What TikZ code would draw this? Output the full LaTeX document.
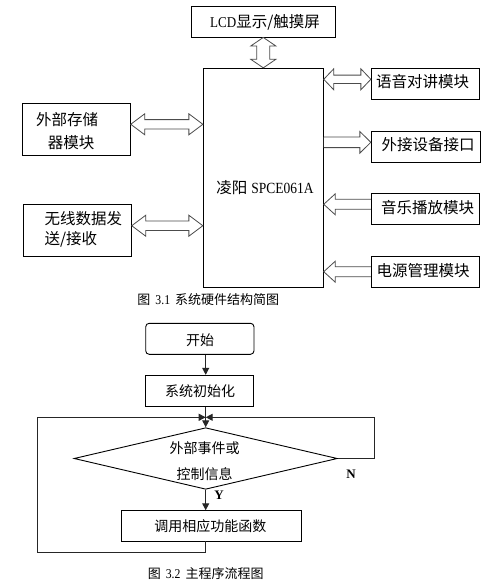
\documentclass[tikz,border=0pt]{standalone}
\usepackage{fontspec}
\setmainfont{Liberation Serif}
\newfontfamily\cjk{Noto Sans CJK SC}
\newfontfamily\lat[FakeStretch=0.87]{Liberation Serif}
\usetikzlibrary{calc,shapes.geometric,arrows.meta}
\tikzset{
  box/.style={draw=black,line width=0.9pt,inner sep=0pt,minimum width=#1},
  box/.default=108pt,
  txt/.style={inner sep=0pt,font=\cjk\fontsize{15.5}{18}\selectfont},
  ftxt/.style={inner sep=0pt,font=\cjk\fontsize{14}{16}\selectfont},
  captxt/.style={inner sep=0pt,font=\cjk\fontsize{13}{15}\selectfont},
  blk/.style={draw=black!70,line width=0.8pt,fill=white},
  fl/.style={draw=black!85,line width=1pt},
  tiparr/.style={-{Triangle[length=7pt,width=7pt]}},
  yn/.style={inner sep=0pt,font=\bfseries\fontsize{13}{15}\selectfont}
}
% double horizontal block arrow: #1 left end, #2 right end, #3 shaft half, #4 head half, #5 head length
\newcommand\dblH[5]{\draw[blk] let \p1=#1, \p2=#2 in
 (\x1,\y1) -- (\x1+#5,\y1+#4) -- (\x1+#5,\y1+#3) -- (\x2-#5,\y1+#3) -- (\x2-#5,\y1+#4) -- (\x2,\y1)
 -- (\x2-#5,\y1-#4) -- (\x2-#5,\y1-#3) -- (\x1+#5,\y1-#3) -- (\x1+#5,\y1-#4) -- cycle;}
% right single block arrow: #1 tail (left), #2 tip (right)
\newcommand\sglR[5]{\draw[blk] let \p1=#1, \p2=#2 in
 (\x1,\y1+#3) -- (\x2-#5,\y1+#3) -- (\x2-#5,\y1+#4) -- (\x2,\y1) -- (\x2-#5,\y1-#4) -- (\x2-#5,\y1-#3) -- (\x1,\y1-#3);}
% left single block arrow: #1 tip (left), #2 tail (right)
\newcommand\sglL[5]{\draw[blk] let \p1=#1, \p2=#2 in
 (\x2,\y1+#3) -- (\x1+#5,\y1+#3) -- (\x1+#5,\y1+#4) -- (\x1,\y1) -- (\x1+#5,\y1-#4) -- (\x1+#5,\y1-#3) -- (\x2,\y1-#3);}
% vertical double block arrow: #1 top end, #2 bottom end
\newcommand\dblV[5]{\draw[blk] let \p1=#1, \p2=#2 in
 (\x1,\y1) -- (\x1+#4,\y1-#5) -- (\x1+#3,\y1-#5) -- (\x1+#3,\y2+#5) -- (\x1+#4,\y2+#5) -- (\x1,\y2)
 -- (\x1-#4,\y2+#5) -- (\x1-#3,\y2+#5) -- (\x1-#3,\y1-#5) -- (\x1-#4,\y1-#5) -- cycle;}
\begin{document}
\begin{tikzpicture}[x=1pt,y=-1pt]
\useasboundingbox[fill=white] (0,0) rectangle (491,586);

% ---------- hardware block diagram ----------
\node[box=144pt,minimum height=31pt] (lcd) at (263.3,21.5) {};
\node[txt] (lcdt) at (265,22.5) {{\lat\fontsize{15}{16}\selectfont LCD}显示/触摸屏};

\node[box=120pt,minimum height=219pt] (main) at (263.3,177.8) {};
\node[txt] (maint) at (265,188) {凌阳\hspace{4pt}{\lat\fontsize{15.5}{16}\selectfont SPCE061A}};

\node[box=108pt,minimum height=30.5pt] (yy) at (425.3,83.8) {};
\node[txt] at (422.5,82) {语音对讲模块};
\node[box=109pt,minimum height=31pt] (wj) at (425.8,146.8) {};
\node[txt] at (428,145) {外接设备接口};
\node[box=108pt,minimum height=30.7pt] (yl) at (425.3,208.7) {};
\node[txt] at (427.5,207.5) {音乐播放模块};
\node[box=108pt,minimum height=30.7pt] (dy) at (425.3,272) {};
\node[txt] at (423,270.5) {电源管理模块};

\node[box=108pt,minimum height=52pt] (cc) at (76.3,129.3) {};
\node[txt,anchor=west] at (36,120) {外部存储};
\node[txt,anchor=west] at (47.7,142.7) {器模块};
\node[box=108pt,minimum height=51.6pt] (wx) at (77.3,230.5) {};
\node[txt,anchor=west] at (44.3,218.3) {无线数据发};
\node[txt,anchor=west] at (44.3,239.3) {送/接收};

\dblV{(lcd.south)}{(main.north)}{6.5pt}{12.5pt}{8.5pt}
\dblH{($(main.east|-yy.west)+(0,-4.5)$)}{($(yy.west)+(0,-4.5)$)}{4.2pt}{10.5pt}{10pt}
\sglR{($(main.east|-wj.west)+(0,-4.5)$)}{($(wj.west)+(0,-4.5)$)}{5.3pt}{10.8pt}{11pt}
\sglL{($(main.east|-yl.west)+(0,-4.4)$)}{($(yl.west)+(0,-4.4)$)}{5pt}{10.5pt}{11.5pt}
\sglL{($(main.east|-dy.west)+(0,-0.3)$)}{($(dy.west)+(0,-0.3)$)}{5pt}{10.5pt}{11.5pt}
\dblH{($(cc.east)+(0,-5)$)}{($(main.west|-cc.east)+(0,-5)$)}{4.7pt}{10.5pt}{14pt}
\dblH{($(wx.east)+(0,-4.8)$)}{($(main.west|-wx.east)+(0,-4.8)$)}{4.7pt}{10.5pt}{14pt}

\node[captxt] (cap1) at (208.3,300) {图\hspace{5pt}{\lat\fontsize{13.5}{15}\selectfont 3.1}\hspace{5pt}系统硬件结构简图};

% ---------- main program flowchart ----------
\node[box=108.3pt,minimum height=31pt,rounded corners=3.5pt] (start) at (199.85,338.8) {};
\node[ftxt] at (200,340) {开始};
\node[box=108.4pt,minimum height=31pt] (init) at (199.5,390.8) {};
\node[ftxt] at (200,390.7) {系统初始化};
\node[draw=black,line width=0.9pt,diamond,inner sep=0pt,minimum width=263.3pt,minimum height=61.6pt] (dec) at (205.7,458.5) {};
\node[ftxt,align=center,font=\cjk\fontsize{14}{26}\selectfont] at (204.5,461) {外部事件或\\控制信息};
\node[box=180pt,minimum height=30.3pt] (call) at (211.3,525.85) {};
\node[ftxt] at (210.3,526) {调用相应功能函数};
\coordinate (jn) at (205.7,417.3);

\draw[fl,tiparr] (start.south -| dec.north) -- (init.north -| dec.north);
\draw[fl] (init.south -| dec.north) -- (jn);
\draw[fl,tiparr] (jn) -- (dec.north);
\draw[fl,tiparr] (dec.east) -- ++(36.7,0) |- (jn);
\draw[fl,tiparr] (dec.south) -- (call.north -| dec.south);
\draw[fl,tiparr] (call.south -| dec.south) -- ++(0,11.3) -| ($(jn)+(-168,0)$) -- (jn);

\node[yn] at (219,495) {Y};
\node[yn] at (351,474) {N};

\node[captxt] (cap2) at (205.7,573.3) {图\hspace{5pt}{\lat\fontsize{13.5}{15}\selectfont 3.2}\hspace{5pt}主程序流程图};
\end{tikzpicture}
\end{document}
